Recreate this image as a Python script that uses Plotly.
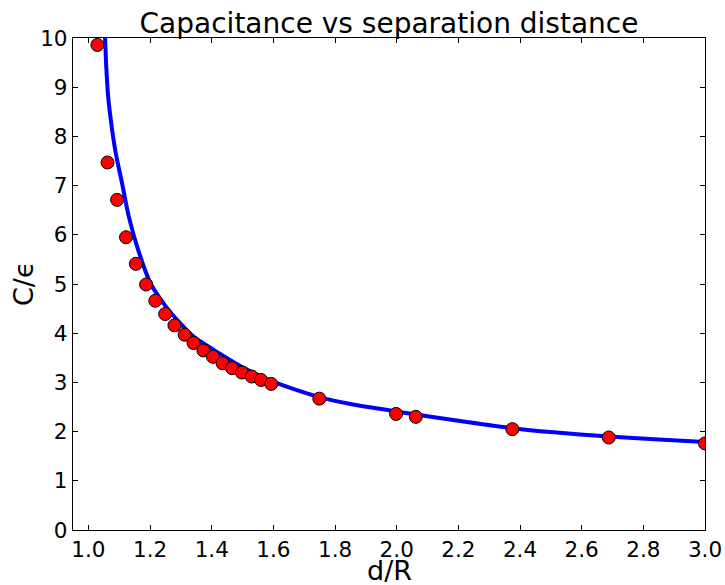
import plotly.graph_objects as go

# Measured capacitance (scaled by permittivity) against normalised separation
sep_measured = [1.029, 1.062, 1.093, 1.122, 1.154, 1.187, 1.217, 1.249, 1.279,
                1.312, 1.341, 1.373, 1.404, 1.435, 1.466, 1.498, 1.530, 1.560,
                1.593, 1.749, 1.998, 2.062, 2.375, 2.688, 3.000]
cap_measured = [9.86, 7.47, 6.71, 5.95, 5.41, 4.99, 4.66, 4.39, 4.16,
                3.97, 3.80, 3.65, 3.52, 3.39, 3.29, 3.20, 3.12, 3.05,
                2.97, 2.67, 2.36, 2.30, 2.05, 1.88, 1.76]

# Model curve
sep_model = [1.054, 1.058, 1.064, 1.077, 1.089, 1.109, 1.131, 1.161, 1.201,
             1.249, 1.295, 1.341, 1.422, 1.514, 1.600, 1.749, 1.850, 1.998,
             2.200, 2.375, 2.500, 2.688, 2.850, 3.000]
cap_model = [10.0, 9.40, 8.81, 8.13, 7.65, 7.05, 6.37, 5.70, 5.02,
             4.56, 4.22, 3.93, 3.60, 3.26, 3.01, 2.70, 2.56, 2.41,
             2.22, 2.07, 1.99, 1.90, 1.84, 1.79]

x_ticks = [1.0, 1.2, 1.4, 1.6, 1.8, 2.0, 2.2, 2.4, 2.6, 2.8, 3.0]
y_ticks = [0, 1, 2, 3, 4, 5, 6, 7, 8, 9, 10]

FONT = "DejaVu Sans"

fig = go.Figure()
fig.add_trace(go.Scatter(
    x=sep_model, y=cap_model, mode="lines",
    line=dict(color="#0000ff", width=4, shape="spline", smoothing=0.7),
    showlegend=False, hoverinfo="skip",
))
fig.add_trace(go.Scatter(
    x=sep_measured, y=cap_measured, mode="markers",
    marker=dict(color="#ff0000", size=13, line=dict(color="black", width=1)),
    showlegend=False,
))

axis_common = dict(
    showgrid=False, zeroline=False, automargin=False,
    showline=True, linecolor="black", linewidth=1.3, mirror="allticks",
    ticks="inside", ticklen=5, tickwidth=1, tickcolor="black",
    tickfont=dict(family=FONT, size=21.5, color="black"),
)

label_font = dict(family=FONT, size=27, color="black")

fig.update_layout(
    width=725, height=585,
    margin=dict(l=73, r=20, t=38, b=55),
    paper_bgcolor="white", plot_bgcolor="white",
    title=dict(text="Capacitance vs separation distance",
               font=dict(family=FONT, size=28, color="black"),
               x=0.5, xref="paper", xanchor="center",
               y=1, yref="paper", yanchor="bottom", pad=dict(b=5)),
    xaxis=dict(range=[0.95, 3.0], tickvals=x_ticks,
               ticktext=[f"{v:.1f}" for v in x_ticks], **axis_common),
    yaxis=dict(range=[0, 10], tickvals=y_ticks,
               ticktext=[str(v) for v in y_ticks], **axis_common),
    annotations=[
        dict(text="d/R", font=label_font, showarrow=False,
             xref="paper", yref="paper", x=0.5, y=0,
             xanchor="center", yanchor="top", yshift=-23),
        dict(text="C/ϵ", font=label_font, showarrow=False, textangle=-90,
             xref="paper", yref="paper", x=0, y=0.5,
             xanchor="center", yanchor="middle", xshift=-50),
    ],
)

fig.write_html("out.html")
